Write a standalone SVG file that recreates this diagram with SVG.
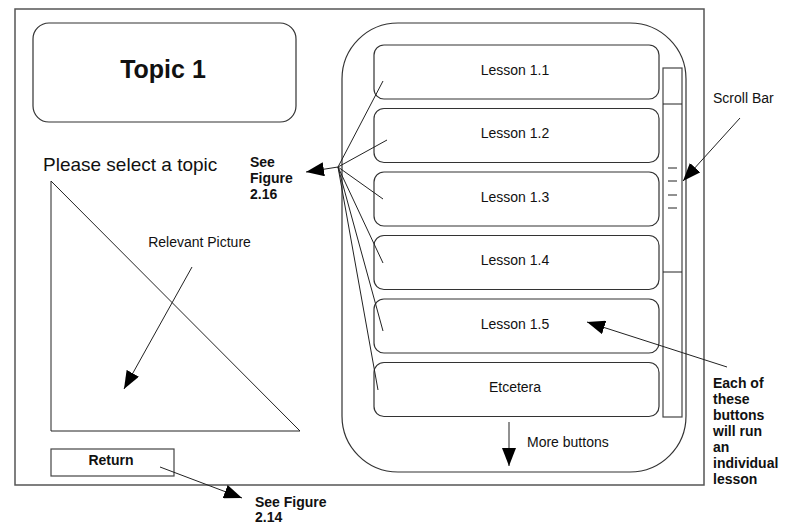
<svg xmlns="http://www.w3.org/2000/svg" width="789" height="531" viewBox="0 0 789 531">
<style>
.box{fill:#fff;stroke:#333;stroke-width:1.2}
.ln{fill:none;stroke:#222;stroke-width:1}
.t{font-family:"Liberation Sans",Arial,sans-serif;fill:#111}
.b{font-weight:bold}
</style>
<defs>
<marker id="ah" markerUnits="userSpaceOnUse" markerWidth="18" markerHeight="14" refX="18" refY="7" orient="auto">
<path d="M0,0 L18,7 L0,14 z" fill="#000"/>
</marker>
</defs>
<rect width="789" height="531" fill="#fff"/>
<g id="frame"><rect x="15" y="9" width="689" height="476" fill="none" stroke="#555" stroke-width="1.5"/></g>
<g id="topic"><rect class="box" x="33" y="23" width="263" height="99" rx="16"/>
<text class="t b" x="163" y="78" font-size="25" text-anchor="middle">Topic 1</text></g>
<g id="prompt"><text class="t" x="43" y="171" font-size="19">Please select a topic</text></g>
<g id="picture"><path class="ln" d="M51,181 L51,431 L300,431 Z" stroke="#444"/>
<text class="t" x="199.5" y="247" font-size="14" text-anchor="middle">Relevant Picture</text></g>
<g id="return"><rect x="51" y="449" width="123" height="27" fill="#fff" stroke="#444" stroke-width="1.2"/>
<text class="t b" x="111" y="465" font-size="14" text-anchor="middle">Return</text></g>
<g id="container"><rect x="342" y="23" width="344" height="449" rx="56" fill="none" stroke="#333" stroke-width="1.2"/></g>
<g id="lesson1"><rect class="box" x="374" y="45" width="285" height="54" rx="10"/><text class="t" x="515" y="75" font-size="14" text-anchor="middle">Lesson 1.1</text></g>
<g id="lesson2"><rect class="box" x="374" y="108.5" width="285" height="54" rx="10"/><text class="t" x="515" y="138" font-size="14" text-anchor="middle">Lesson 1.2</text></g>
<g id="lesson3"><rect class="box" x="374" y="172" width="285" height="54" rx="10"/><text class="t" x="515" y="201.5" font-size="14" text-anchor="middle">Lesson 1.3</text></g>
<g id="lesson4"><rect class="box" x="374" y="235.5" width="285" height="54" rx="10"/><text class="t" x="515" y="265" font-size="14" text-anchor="middle">Lesson 1.4</text></g>
<g id="lesson5"><rect class="box" x="374" y="299" width="285" height="54" rx="10"/><text class="t" x="515" y="328.5" font-size="14" text-anchor="middle">Lesson 1.5</text></g>
<g id="etcetera"><rect class="box" x="374" y="362.5" width="285" height="54" rx="10"/><text class="t" x="515" y="391.5" font-size="14" text-anchor="middle">Etcetera</text></g>
<g id="scrollbar"><rect x="663" y="68" width="19" height="349" fill="#fff" stroke="#444" stroke-width="1.2"/>
<line class="ln" x1="663" y1="104" x2="682" y2="104"/><line class="ln" x1="663" y1="272" x2="682" y2="272"/>
<line class="ln" x1="668" y1="168" x2="677" y2="168"/><line class="ln" x1="668" y1="181" x2="677" y2="181"/>
<line class="ln" x1="668" y1="195" x2="677" y2="195"/><line class="ln" x1="668" y1="208" x2="677" y2="208"/></g>
<g id="labels">
<text class="t b" font-size="14" x="250"><tspan x="250" y="167">See</tspan><tspan x="250" y="183">Figure</tspan><tspan x="250" y="199">2.16</tspan></text>
<text class="t b" font-size="14"><tspan x="255" y="507">See Figure</tspan><tspan x="255" y="522">2.14</tspan></text>
<text class="t" x="713" y="103" font-size="14">Scroll Bar</text>
<text class="t" x="527" y="447" font-size="14">More buttons</text>
<text class="t b" font-size="14"><tspan x="713" y="388">Each of</tspan><tspan x="713" y="404">these</tspan><tspan x="713" y="420">buttons</tspan><tspan x="713" y="436">will run</tspan><tspan x="713" y="452">an</tspan><tspan x="713" y="468">individual</tspan><tspan x="713" y="484">lesson</tspan></text>
</g>
<g id="connectors">
<line class="ln" x1="338" y1="167" x2="383" y2="81"/>
<line class="ln" x1="338" y1="167" x2="387" y2="140"/>
<line class="ln" x1="338" y1="167" x2="383" y2="199"/>
<line class="ln" x1="338" y1="167" x2="383" y2="263"/>
<line class="ln" x1="338" y1="167" x2="383" y2="331"/>
<line class="ln" x1="338" y1="167" x2="378" y2="390"/>
<line class="ln" x1="338" y1="167" x2="306" y2="172" marker-end="url(#ah)"/>
<line class="ln" x1="192" y1="267" x2="124" y2="389" marker-end="url(#ah)"/>
<line class="ln" x1="160" y1="467" x2="242" y2="498" marker-end="url(#ah)"/>
<line class="ln" x1="740" y1="118" x2="683" y2="181" marker-end="url(#ah)"/>
<line class="ln" x1="727" y1="367" x2="587" y2="322" marker-end="url(#ah)"/>
<line class="ln" x1="509" y1="422" x2="509" y2="466" marker-end="url(#ah)"/>
</g>
</svg>
